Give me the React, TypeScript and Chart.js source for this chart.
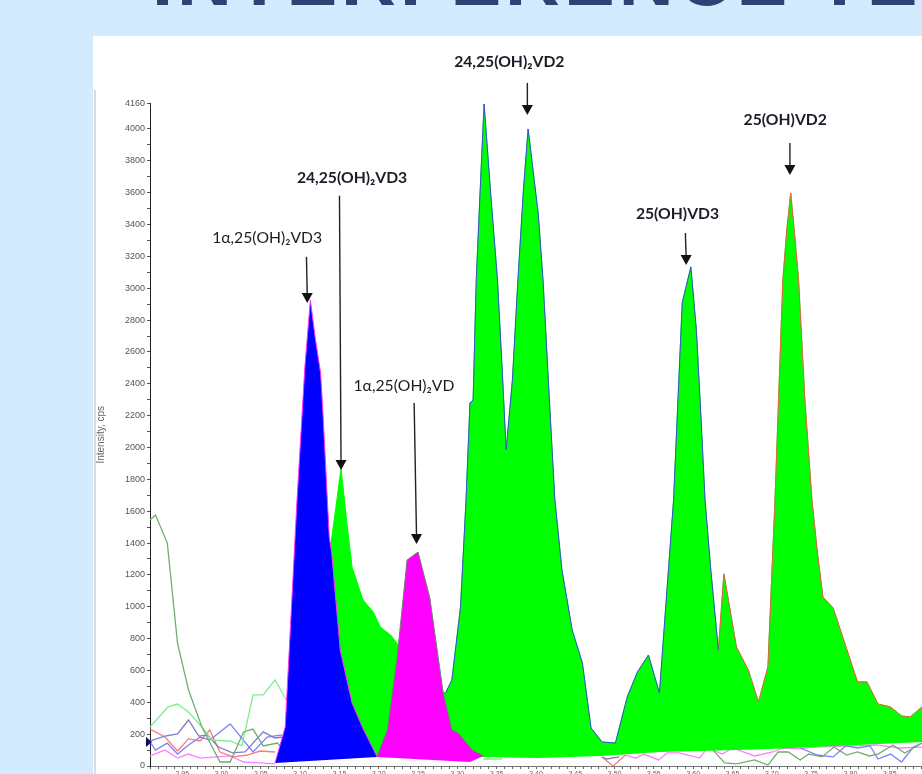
import React from 'react'
import { Chart, registerables } from 'chart.js'

Chart.register(...registerables)

// retention time (min) / intensity (cps)
const blueTimes = [3.068, 3.081, 3.087, 3.096, 3.1, 3.106, 3.113, 3.119, 3.126, 3.129, 3.137, 3.14, 3.151, 3.166, 3.179, 3.198]
const blueValues = [19, 245, 810, 1670, 2003, 2505, 2926, 2694, 2468, 2217, 1438, 1344, 728, 396, 245, 57]
const blueBaseTimes = [3.068, 3.198]
const blueBaseValues = [19, 57]

const magentaTimes = [3.198, 3.202, 3.211, 3.223, 3.236, 3.25, 3.265, 3.282, 3.293, 3.301, 3.319, 3.333]
const magentaValues = [57, 113, 226, 666, 1294, 1344, 1055, 458, 226, 207, 100, 63]
const magentaBaseTimes = [3.198, 3.316, 3.333]
const magentaBaseValues = [57, 25, 63]

const greenTimes = [
  3.126, 3.132, 3.138, 3.145, 3.152, 3.159, 3.166, 3.18, 3.193, 3.202, 3.215, 3.223, 3.227, 3.246, 3.285, 3.293,
  3.304, 3.311, 3.316, 3.32, 3.324, 3.329, 3.334, 3.342, 3.351, 3.357, 3.362, 3.37, 3.377, 3.384, 3.39, 3.403, 3.409,
  3.417, 3.424, 3.433, 3.446, 3.459, 3.47, 3.484, 3.501, 3.516, 3.529, 3.543, 3.557, 3.575, 3.586, 3.597, 3.604,
  3.61, 3.615, 3.622, 3.632, 3.639, 3.655, 3.67, 3.683, 3.695, 3.704, 3.709, 3.714, 3.719, 3.724, 3.729, 3.734,
  3.742, 3.751, 3.758, 3.765, 3.778, 3.809, 3.821, 3.835, 3.851, 3.865, 3.876, 3.891,
]
const greenValues = [
  57, 1042, 1356, 1608, 1871, 1545, 1250, 1042, 967, 873, 823, 772, 728, 540, 458, 540,
  999, 1670, 2280, 2298, 3052, 3617, 4157, 3617, 3052, 2487, 1984, 2424, 3052, 3617, 4000, 3460, 3046,
  2298, 1670, 1231, 854, 647, 239, 151, 144, 433, 590, 697, 458, 1670, 2908, 3134, 2738,
  2173, 1670, 1250, 728, 1206, 747, 603, 402, 622, 1670, 2361, 3052, 3366, 3598, 3335, 3052,
  2298, 1670, 1338, 1061, 992, 528, 528, 389, 371, 314, 308, 371,
]
const greenBaseTimes = [3.126, 3.333, 3.402, 3.482, 3.558, 3.656, 3.714, 3.891]
const greenBaseValues = [57, 57, 50, 63, 88, 100, 110, 150]

// where the outline of the green area changes colour
const blueEdgeStart = greenTimes.indexOf(3.285)
const redEdgeStart = greenTimes.indexOf(3.632)

// low level traces behind the peaks, null = hidden behind the peaks
const darkGreenTimes = [2.909, 2.916, 2.931, 2.944, 2.958, 2.975, 2.998, 3.011, 3.028, 3.04, 3.053, 3.071, 3.077, 3.2, 3.625, 3.64, 3.655, 3.678, 3.695, 3.708, 3.721, 3.736, 3.747, 3.764, 3.779, 3.795, 3.809, 3.824, 3.835, 3.854, 3.869, 3.891]
const darkGreenValues = [1545, 1576, 1400, 772, 477, 245, 25, 25, 214, 232, 126, 144, 113, null, 100, 19, 13, 38, 6, 88, 88, 38, 75, 57, 119, 69, 88, 63, 75, 132, 82, 144]
const lightGreenTimes = [2.909, 2.932, 2.944, 2.958, 2.975, 2.988, 3.011, 3.026, 3.04, 3.053, 3.068, 3.084, 3.2, 3.333, 3.357]
const lightGreenValues = [245, 371, 389, 339, 245, 163, 157, 126, 446, 446, 540, 402, null, 44, 44]
const slateTimes = [2.909, 2.928, 2.944, 2.958, 2.971, 2.982, 2.996, 3.014, 3.03, 3.053, 3.068, 3.078, 3.2, 3.484, 3.49, 3.506]
const slateValues = [157, 188, 201, 289, 188, 195, 119, 82, 88, 214, 176, 182, null, 57, 44, 57]
const blueTraceTimes = [2.909, 2.916, 2.931, 2.944, 2.958, 2.973, 2.985, 3.011, 3.04, 3.058, 3.077, 3.2, 3.736, 3.758, 3.778, 3.794, 3.809, 3.825, 3.835, 3.851, 3.865, 3.88, 3.891]
const blueTraceValues = [151, 100, 144, 75, 132, 182, 163, 264, 88, 182, 195, null, 113, 69, 57, 126, 113, 126, 44, 75, 25, 119, 144]
const redTimes = [2.909, 2.928, 2.944, 2.958, 2.973, 2.985, 2.998, 3.015, 3.033, 3.049, 3.068, 3.2, 3.484, 3.498, 3.514]
const redValues = [232, 182, 94, 170, 157, 226, 88, 57, 69, 94, 88, null, 57, 0, 69]
const pinkTimes = [2.909, 2.928, 2.944, 2.958, 2.973, 3.011, 3.028, 3.049, 3.068, 3.2, 3.514, 3.527, 3.537, 3.556, 3.567, 3.582, 3.608, 3.618, 3.637, 3.65, 3.678, 3.701, 3.714, 3.733, 3.755, 3.833, 3.862, 3.891]
const pinkValues = [63, 100, 50, 75, 50, 63, 25, 19, 13, null, 69, 50, 75, 38, 82, 82, 50, 113, 75, 113, 63, 88, 113, 107, 119, 132, 113, 119]

// axis
const xTickLabels = ['2.95', '3.00', '3.05', '3.10', '3.15', '3.20', '3.25', '3.30', '3.35', '3.40', '3.45', '3.50', '3.55', '3.60', '3.65', '3.70', '3.75', '3.80', '3.85']
const yMax = 4160

// peak names with their arrows
const peakNames = ['1α,25(OH)₂VD3', '24,25(OH)₂VD3', '1α,25(OH)₂VD', '24,25(OH)₂VD2', '25(OH)VD3', '25(OH)VD2']
const peakNameBold = [false, true, false, true, true, true]
const peakNameTimes = [3.058, 3.166, 3.232, 3.366, 3.58, 3.717]
const peakNameLevels = [3316, 3693, 2386, 4421, 3467, 4057]
const arrowStartTimes = [3.108, 3.15, 3.245, 3.389, 3.59, 3.723]
const arrowEndTimes = [3.109, 3.152, 3.248, 3.389, 3.591, 3.723]
const arrowStartLevels = [3197, 3580, 2280, 4289, 3347, 3912]
const arrowEndLevels = [2908, 1859, 1394, 4088, 3146, 3711]

const zip = (xs: number[], ys: (number | null)[]) => xs.map((x, i) => ({ x, y: ys[i] }))

const trace = (xs: number[], ys: (number | null)[], color: string, width = 1.3) => ({
  data: zip(xs, ys),
  borderColor: color,
  borderWidth: width,
  pointRadius: 0,
  tension: 0,
  fill: false,
})

const peak = (xs: number[], ys: number[], color: string, edge: string) => ({
  data: zip(xs, ys),
  borderColor: edge,
  backgroundColor: color,
  borderWidth: 1,
  pointRadius: 0,
  tension: 0,
  fill: '+1',
})

const base = (xs: number[], ys: number[]) => ({
  data: zip(xs, ys),
  borderColor: 'transparent',
  borderWidth: 0,
  pointRadius: 0,
  tension: 0,
  fill: false,
})

const peakLabels = {
  id: 'peakLabels',
  afterDraw(chart: any) {
    const { ctx, scales } = chart
    const { x, y } = scales
    ctx.save()
    peakNames.forEach((name, i) => {
      ctx.font = `${peakNameBold[i] ? 'bold ' : ''}15.7px Lato`
      ctx.fillStyle = '#1c1c28'
      ctx.textAlign = 'center'
      ctx.textBaseline = 'middle'
      ctx.fillText(name, x.getPixelForValue(peakNameTimes[i]), y.getPixelForValue(peakNameLevels[i]))

      const x0 = x.getPixelForValue(arrowStartTimes[i])
      const y0 = y.getPixelForValue(arrowStartLevels[i])
      const x1 = x.getPixelForValue(arrowEndTimes[i])
      const y1 = y.getPixelForValue(arrowEndLevels[i])
      ctx.strokeStyle = '#222'
      ctx.lineWidth = 1.4
      ctx.beginPath()
      ctx.moveTo(x0, y0)
      ctx.lineTo(x1, y1 - 8)
      ctx.stroke()
      ctx.fillStyle = '#111'
      ctx.beginPath()
      ctx.moveTo(x1, y1)
      ctx.lineTo(x1 - 5.5, y1 - 10)
      ctx.lineTo(x1 + 5.5, y1 - 10)
      ctx.closePath()
      ctx.fill()
    })
    // small marker on the y axis
    const my = y.getPixelForValue(150)
    ctx.fillStyle = '#10106a'
    ctx.beginPath()
    ctx.moveTo(x.left + 2, my)
    ctx.lineTo(x.left - 4, my - 5)
    ctx.lineTo(x.left - 4, my + 5)
    ctx.closePath()
    ctx.fill()
    ctx.restore()
  },
}

const App = () => {
  const ref = React.useRef<HTMLCanvasElement | null>(null)

  React.useEffect(() => {
    if (!ref.current) return
    const theChart = new Chart(ref.current, {
      type: 'line',
      data: {
        datasets: [
          peak(blueTimes, blueValues, '#0000ff', '#ff33ff'),
          base(blueBaseTimes, blueBaseValues),
          peak(magentaTimes, magentaValues, '#ff00ff', '#6f7f6f'),
          base(magentaBaseTimes, magentaBaseValues),
          trace(greenTimes.slice(blueEdgeStart, redEdgeStart + 1), greenValues.slice(blueEdgeStart, redEdgeStart + 1), '#3a50d8', 1),
          trace(greenTimes.slice(redEdgeStart), greenValues.slice(redEdgeStart), '#e8604a', 1),
          peak(greenTimes, greenValues, '#00ff00', '#00ff00'),
          base(greenBaseTimes, greenBaseValues),
          trace(darkGreenTimes, darkGreenValues, '#6fae6f'),
          trace(lightGreenTimes, lightGreenValues, '#7df08a'),
          trace(slateTimes, slateValues, '#7c7cc8'),
          trace(blueTraceTimes, blueTraceValues, '#8080ff'),
          trace(redTimes, redValues, '#ff7a7a'),
          trace(pinkTimes, pinkValues, '#ff80ff'),
        ] as any,
      },
      plugins: [peakLabels],
      options: {
        animation: false,
        responsive: false,
        devicePixelRatio: 1,
        parsing: false,
        layout: { padding: { top: 67.5, left: 0, right: 0, bottom: 0 } },
        plugins: { legend: { display: false }, tooltip: { enabled: false } },
        scales: {
          x: {
            type: 'linear',
            min: 2.909,
            max: 3.891,
            afterFit: (s: any) => {
              s.height = 30
              s.paddingLeft = 0
              s.paddingRight = 0
            },
            border: { color: '#777' },
            grid: { drawOnChartArea: false, tickLength: 3, tickColor: '#666' },
            ticks: {
              stepSize: 0.01,
              autoSkip: false,
              includeBounds: false,
              maxRotation: 0,
              padding: 1,
              color: '#666',
              font: { family: 'Liberation Sans', size: 7 },
              callback: (v: any) => {
                const s = Number(v).toFixed(2)
                return xTickLabels.includes(s) ? s : ''
              },
            },
          },
          y: {
            type: 'linear',
            min: 0,
            max: yMax,
            afterFit: (s: any) => {
              s.width = 57
              s.paddingTop = 0
              s.paddingBottom = 0
            },
            border: { color: '#222' },
            title: {
              display: true,
              text: 'Intensity, cps',
              color: '#666',
              font: { family: 'Liberation Sans', size: 10 },
              padding: { top: 2, bottom: 0 },
            },
            grid: { drawOnChartArea: false, tickLength: 3, tickColor: '#555' },
            ticks: {
              stepSize: 100,
              autoSkip: false,
              padding: 2,
              color: '#555',
              font: { family: 'Liberation Sans', size: 9 },
              callback: (v: any) => (Number(v) % 200 === 0 || Number(v) === yMax ? String(v) : ''),
            },
          },
        },
      },
    })
    return () => theChart.destroy()
  }, [])

  return (
    <div style={{ position: 'fixed', left: 0, top: 0, width: 922, height: 774, overflow: 'hidden', background: '#d4eafe' }}>
      <div
        style={{
          position: 'absolute',
          left: 152,
          top: -59,
          whiteSpace: 'nowrap',
          font: 'bold 76px/76px "Liberation Sans"',
          letterSpacing: 4,
          color: '#2d4374',
        }}
      >
        INTERFERENCE TEST
      </div>
      <div style={{ position: 'absolute', left: 93, top: 36, width: 829, height: 738, background: '#fff' }} />
      <div style={{ position: 'absolute', left: 94, top: 90, width: 2, height: 684, background: '#dcdcdc' }} />
      <canvas
        ref={ref}
        width={829}
        height={760}
        style={{ position: 'absolute', left: 93, top: 36, width: 829, height: 760, filter: 'blur(0.4px)' }}
      />
    </div>
  )
}

export default App
